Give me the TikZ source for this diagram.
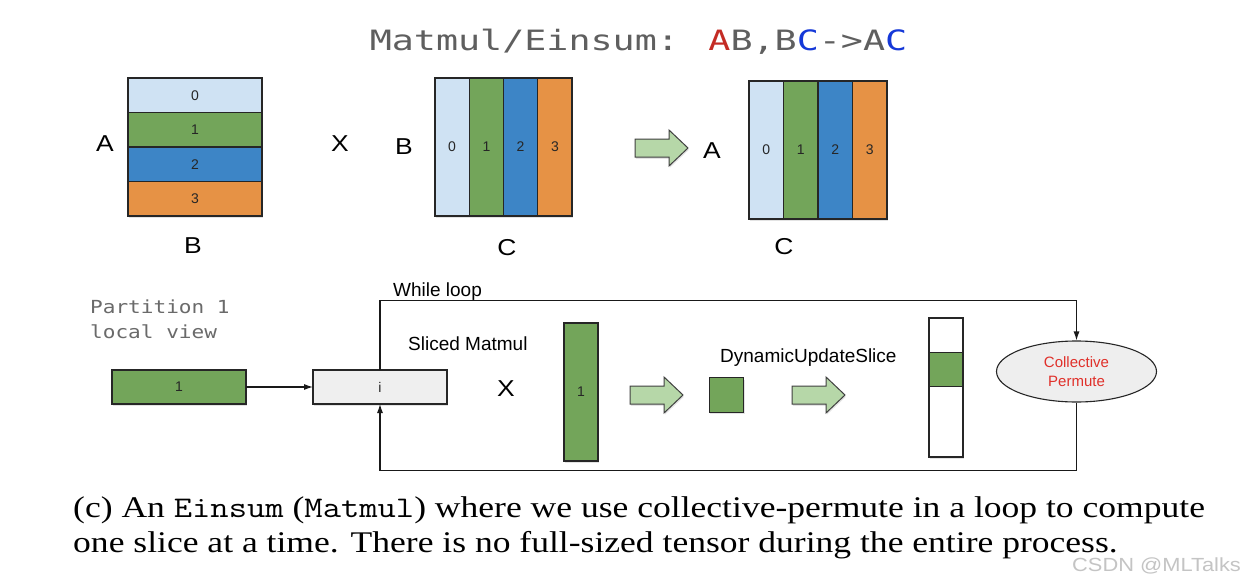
\documentclass[tikz,border=0pt]{standalone}
\usepackage{fontspec}
\usepackage{graphicx}
\setmainfont{Liberation Serif}
\setsansfont{Liberation Sans}
\newfontfamily\titlefont{DejaVu Sans Mono}
\usetikzlibrary{shapes.geometric,arrows.meta,shadows}
\definecolor{cblue0}{HTML}{CFE2F3}
\definecolor{cgreen}{HTML}{73A55A}
\definecolor{cblue}{HTML}{3D85C6}
\definecolor{corange}{HTML}{E69245}
\definecolor{agreen}{HTML}{B6D7A8}
\definecolor{igray}{HTML}{EFEFEF}
\definecolor{egray}{HTML}{EEEEEE}
\definecolor{tgray}{HTML}{5F5F5F}
\definecolor{pgray}{HTML}{6A6A6A}
\definecolor{tred}{HTML}{C42B24}
\definecolor{tblue}{HTML}{1538D8}
\definecolor{cred}{HTML}{E0302A}
\definecolor{wmgray}{HTML}{C4C4C4}
\newcommand{\sx}[2]{\scalebox{#1}[1]{#2}}
\tikzset{
  shad/.style={drop shadow={shadow xshift=0.8pt,shadow yshift=-1.8pt,opacity=0.22}},
  cell/.style={draw=black!85, line width=1.3pt, inner sep=0pt, outer sep=0pt,
    font=\fontsize{14}{16}\sffamily, text=black!85},
  big/.style={font=\fontsize{23}{26}\sffamily, inner sep=0pt, anchor=base},
  lbl/.style={font=\fontsize{19}{22}\sffamily, inner sep=0pt, anchor=base west},
  conn/.style={line width=1.1pt, draw=black!90, -{Latex[length=9pt,width=6pt]}},
  fat/.style={draw=black!75, line width=1pt, fill=agreen, line join=miter, shad},
  captxt/.style={font=\fontsize{30}{36}\rmfamily, inner sep=0pt, anchor=base west}
}
\newcommand{\fatarrow}[2]{\draw[fat] (#1,#2) ++(0,-9) -- ++(34,0) -- ++(0,-9) -- ++(19,18) -- ++(-19,18) -- ++(0,-9) -- ++(-34,0) -- cycle;}
\begin{document}
\begin{tikzpicture}[x=1pt,y=-1pt]
\useasboundingbox[fill=white] (0,0) rectangle (1256,584);

% title
\node[anchor=base, inner sep=0pt, font=\fontsize{28}{30}\titlefont, text=tgray] (title) at (638.5,50)
  {\sx{1.31}{Matmul/Einsum: \textcolor{tred}{A}B,B\textcolor{tblue}{C}->A\textcolor{tblue}{C}}};

% matrix A (rows)
\node[cell, shad, fill=cblue0, minimum width=134pt, minimum height=34.5pt] (a0) at (195,95.25) {0};
\node[cell, shad, fill=cgreen,  minimum width=134pt, minimum height=34.5pt] (a1) at (195,129.75) {1};
\node[cell, shad, fill=cblue,   minimum width=134pt, minimum height=34.5pt] (a2) at (195,164.25) {2};
\node[cell, shad, fill=corange, minimum width=134pt, minimum height=34.5pt] (a3) at (195,198.75) {3};
\node[big] (lA) at (105,151) {\sx{1.15}{A}};
\node[big] (lB1) at (193,253.5) {\sx{1.15}{B}};
\node[big] (lX) at (340,151) {\sx{1.15}{X}};

% matrix B (columns)
\node[cell, shad, fill=cblue0, minimum width=34.25pt, minimum height=138pt] (b0) at (452.1,147) {0};
\node[cell, shad, fill=cgreen,  minimum width=34.25pt, minimum height=138pt] (b1) at (486.4,147) {1};
\node[cell, shad, fill=cblue,   minimum width=34.25pt, minimum height=138pt] (b2) at (520.6,147) {2};
\node[cell, shad, fill=corange, minimum width=34.25pt, minimum height=138pt] (b3) at (554.9,147) {3};
\node[big] (lB2) at (404,154.5) {\sx{1.15}{B}};
\node[big] (lC1) at (507,255.5) {\sx{1.15}{C}};

\fatarrow{635}{148}

% result AC
\node[cell, shad, fill=cblue0, minimum width=34.5pt, minimum height=138pt] (c0) at (766.25,150) {0};
\node[cell, shad, fill=cgreen,  minimum width=34.5pt, minimum height=138pt] (c1) at (800.75,150) {1};
\node[cell, shad, fill=cblue,   minimum width=34.5pt, minimum height=138pt] (c2) at (835.25,150) {2};
\node[cell, shad, fill=corange, minimum width=34.5pt, minimum height=138pt] (c3) at (869.75,150) {3};
\node[big] (lA2) at (712,158) {\sx{1.15}{A}};
\node[big] (lC2) at (784,254.5) {\sx{1.15}{C}};

% bottom: partition view
\node[anchor=base west, inner sep=0pt, font=\fontsize{18}{20}\titlefont, text=pgray] (p1) at (90,313) {\sx{1.17}{Partition 1}};
\node[anchor=base west, inner sep=0pt, font=\fontsize{18}{20}\titlefont, text=pgray] (p2) at (90,338) {\sx{1.17}{local view}};

\node[cell, shad, fill=cgreen, minimum width=134pt, minimum height=34pt] (g1) at (179,387) {1};
\node[cell, shad, fill=igray,  minimum width=134pt, minimum height=34pt] (ib) at (380,387) {i};
\draw[conn] (g1) -- (ib);

\node[lbl] (wl) at (393,296) {While loop};
\node[lbl] (sm) at (408,350) {Sliced Matmul};
\node[big] (lX2) at (506,396) {\sx{1.15}{X}};

\node[cell, shad, fill=cgreen, minimum width=34pt, minimum height=138pt] (tall) at (581,392) {1};
\fatarrow{630}{395}
\node[cell, shad, fill=cgreen, minimum width=34.5pt, minimum height=34.5pt] (sq) at (726.5,395) {};
\node[lbl] (dus) at (720,362.5) {DynamicUpdateSlice};
\fatarrow{792}{395}

\node[cell, shad, fill=white, minimum width=34pt, minimum height=139pt] (col) at (946,387.5) {};
\node[cell, fill=cgreen, minimum width=34pt, minimum height=34pt] (colg) at (946,369.5) {};

\node[ellipse, draw=black!85, line width=1.1pt, fill=egray, minimum width=160pt, minimum height=61pt,
  inner sep=0pt, font=\fontsize{15}{19}\sffamily, text=cred, align=center] (cp) at (1076.5,371.5)
  {Collective\\Permute};

\coordinate (lt) at (1076.5,300.5);
\coordinate (lb) at (1076.5,470.5);
\draw[conn] (ib.north) |- (lt) -- (cp.north);
\draw[conn] (cp.south) -- (lb) -| (ib.south);

% caption
\node[captxt] (cap1) at (73,517) {\sx{1.185}{(c) An \texttt{Einsum} (\texttt{Matmul}) where we use collective-permute in a loop to compute}};
\node[captxt] (cap2) at (73,552) {\sx{1.185}{one slice at a time. There is no full-sized tensor during the entire process.}};

% watermark
\node[anchor=base west, inner sep=0pt, font=\fontsize{19}{22}\sffamily, text=wmgray] (wm) at (1072,571.5) {\sx{1.15}{CSDN @MLTalks}};
\end{tikzpicture}
\end{document}
